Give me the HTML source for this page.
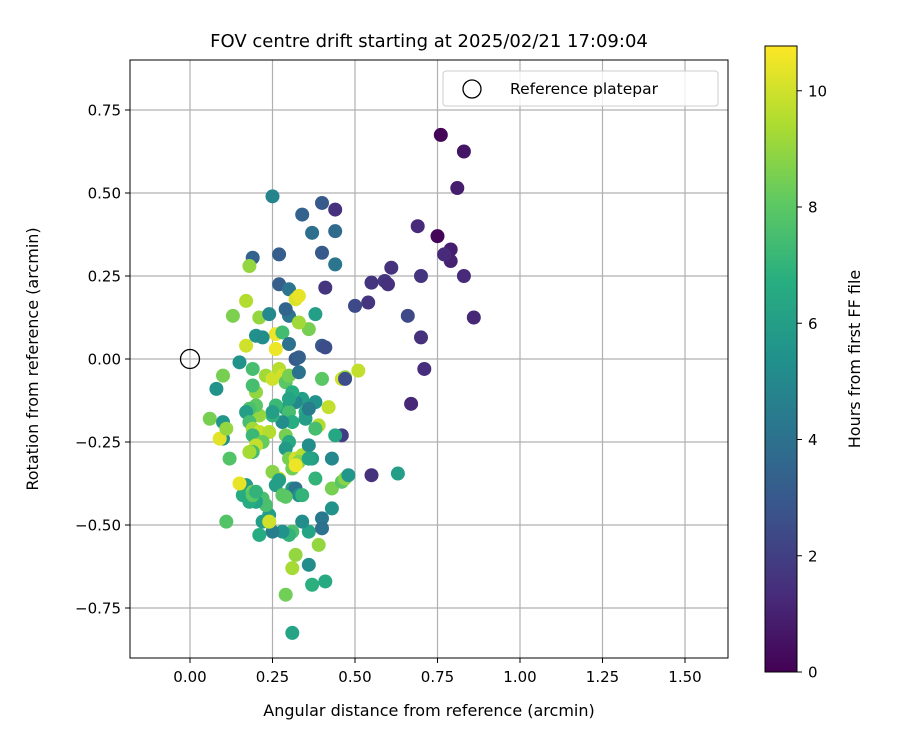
<!DOCTYPE html>
<html><head><meta charset="utf-8"><style>
body{margin:0;background:#fff;font-family:"Liberation Sans","DejaVu Sans",sans-serif}
svg text{font-family:"DejaVu Sans","Liberation Sans",sans-serif;fill:#000}
</style></head><body>
<svg id="chart" width="900" height="750" xmlns="http://www.w3.org/2000/svg">
<defs><linearGradient id="vir" x1="0" y1="1" x2="0" y2="0">
<stop offset="0" stop-color="#440154"/><stop offset="0.125" stop-color="#472d7b"/><stop offset="0.25" stop-color="#3b528b"/><stop offset="0.375" stop-color="#2c728e"/><stop offset="0.5" stop-color="#21918c"/><stop offset="0.625" stop-color="#28ae80"/><stop offset="0.75" stop-color="#5ec962"/><stop offset="0.875" stop-color="#addc30"/><stop offset="1" stop-color="#fde725"/></linearGradient>
<clipPath id="clip"><rect x="130" y="60" width="598" height="598"/></clipPath></defs>
<g id="grid"></g>
<g id="pts" clip-path="url(#clip)"></g>
<rect x="130" y="60" width="598" height="598" fill="none" stroke="#000" stroke-width="1"/>
<g id="ticks"></g>
<text x="429" y="47" font-size="18" text-anchor="middle">FOV centre drift starting at 2025/02/21 17:09:04</text>
<text x="429" y="716" font-size="16" text-anchor="middle">Angular distance from reference (arcmin)</text>
<text transform="translate(38,359) rotate(-90)" font-size="16" text-anchor="middle">Rotation from reference (arcmin)</text>
<g>
<rect x="443" y="71" width="275" height="35" rx="3" fill="#fff" fill-opacity="0.8" stroke="#ccc"/>
<circle cx="472" cy="89" r="9" fill="none" stroke="#000" stroke-width="1.3"/>
<text x="510" y="94" font-size="15.5">Reference platepar</text>
</g>
<rect x="765" y="46" width="32" height="626" fill="url(#vir)" stroke="#000" stroke-width="1"/>
<g id="cbticks"></g>
<text transform="translate(860,359) rotate(-90)" font-size="16" text-anchor="middle">Hours from first FF file</text>
</svg>
<script>
const xs=[0.76,0.83,0.81,0.75,0.79,0.79,0.77,0.69,0.70,0.61,0.55,0.59,0.60,0.54,0.50,0.86,0.83,0.66,0.70,0.71,0.67,0.55,0.63,0.46,
0.25,0.40,0.44,0.34,0.37,0.44,0.40,0.44,0.41,0.19,0.27,0.18,0.27,0.30,0.17,0.13,0.21,0.24,0.20,0.30,0.29,0.32,0.33,0.38,0.36,0.33,0.26,0.17,0.28,0.22,0.26,0.40,0.41,0.32,0.33,0.30,0.15,0.08,0.10,0.06,0.10,0.10,0.09,0.11,0.12,
0.19,0.20,0.19,0.23,0.25,0.27,0.28,0.29,0.30,0.33,0.34,0.32,0.29,0.30,0.31,0.28,0.25,0.26,0.25,0.21,0.20,0.18,0.17,0.18,0.19,0.21,0.19,0.24,0.22,0.20,0.19,0.18,0.29,0.30,0.29,0.30,0.32,0.34,0.33,0.36,0.37,0.36,0.39,0.38,0.38,0.40,0.42,0.43,0.44,0.46,0.47,0.47,0.51,0.35,0.35,0.36,0.31,0.30,0.27,0.25,0.26,0.28,0.31,0.32,0.36,0.38,0.31,0.32,0.33,0.43,0.46,0.47,0.48,0.43,0.36,0.34,0.40,0.40,0.39,0.31,0.30,0.28,0.25,0.24,0.24,0.22,0.23,0.22,0.20,0.18,0.17,0.16,0.15,0.19,0.19,0.21,0.11,0.20,0.32,0.31,0.36,0.37,0.41,0.29,0.31,0.27,0.34,0.29,0.24];
const ys=[0.675,0.625,0.515,0.37,0.33,0.295,0.315,0.40,0.25,0.275,0.23,0.235,0.225,0.17,0.16,0.125,0.25,0.13,0.065,-0.03,-0.135,-0.35,-0.345,-0.23,
0.49,0.47,0.45,0.435,0.38,0.385,0.32,0.285,0.215,0.305,0.315,0.28,0.225,0.21,0.175,0.13,0.125,0.135,0.07,0.13,0.15,0.18,0.19,0.135,0.09,0.11,0.075,0.04,0.08,0.065,0.03,0.04,0.035,0.0,0.005,0.045,-0.01,-0.09,-0.05,-0.18,-0.19,-0.24,-0.24,-0.21,-0.30,
-0.03,-0.10,-0.08,-0.05,-0.06,-0.03,-0.05,-0.07,-0.05,-0.04,-0.12,-0.13,-0.15,-0.16,-0.19,-0.19,-0.17,-0.14,-0.16,-0.17,-0.14,-0.15,-0.16,-0.19,-0.21,-0.22,-0.23,-0.22,-0.25,-0.26,-0.28,-0.28,-0.23,-0.25,-0.27,-0.30,-0.30,-0.29,-0.31,-0.30,-0.30,-0.26,-0.20,-0.21,-0.13,-0.06,-0.145,-0.30,-0.23,-0.06,-0.055,-0.06,-0.035,-0.16,-0.18,-0.15,-0.10,-0.12,-0.36,-0.34,-0.38,-0.41,-0.33,-0.32,-0.30,-0.36,-0.39,-0.39,-0.41,-0.39,-0.37,-0.36,-0.35,-0.45,-0.52,-0.49,-0.48,-0.51,-0.56,-0.52,-0.53,-0.52,-0.52,-0.49,-0.47,-0.49,-0.44,-0.42,-0.43,-0.43,-0.38,-0.41,-0.375,-0.40,-0.41,-0.53,-0.49,-0.40,-0.59,-0.63,-0.62,-0.68,-0.67,-0.71,-0.825,-0.365,-0.41,-0.415,-0.49];
const hours=[0.1,0.6,0.9,0.1,0.9,1.0,1.3,1.3,1.6,1.5,1.6,1.7,1.5,1.6,2.4,1.2,1.3,2.4,1.5,1.4,1.2,1.5,6.0,1.9,
4.8,3.0,1.5,3.4,3.9,3.7,3.0,4.2,1.6,3.4,3.2,9.0,3.2,4.2,9.5,8.6,9.0,5.0,5.4,4.2,3.5,10.2,10.4,6.0,8.5,9.2,10.5,10.0,7.4,5.2,10.5,3.0,2.5,3.0,3.3,4.0,5.5,5.5,8.5,8.5,5.6,5.4,10.3,9.0,7.8,
7.5,9.0,7.5,9.2,10.0,9.6,10.0,8.0,8.5,4.0,6.0,5.0,6.2,7.5,6.7,5.2,7.0,7.2,6.0,9.0,8.0,7.6,6.0,7.5,9.2,9.8,7.2,9.5,8.2,9.8,7.4,9.3,8.5,6.5,5.8,8.5,10.0,9.5,8.8,7.2,6.0,5.2,9.5,7.5,5.5,8.0,9.8,5.0,6.4,10.0,9.0,2.5,9.8,6.5,6.0,4.5,6.7,6.2,10.0,8.8,6.0,8.0,8.4,10.5,6.2,7.0,6.0,4.2,5.2,8.5,8.0,8.8,5.6,5.5,6.2,5.2,4.3,4.0,9.0,7.6,7.0,5.5,4.5,7.8,6.0,6.0,7.6,7.6,6.2,6.6,5.8,6.6,10.4,8.4,8.0,6.6,7.8,7.0,9.0,9.3,5.2,6.8,6.5,8.4,6.2,6.0,7.0,8.0,10.0];
const xTicks=[0,0.25,0.5,0.75,1.0,1.25,1.5];
const xTickLabels=["0.00","0.25","0.50","0.75","1.00","1.25","1.50"];
const yTicks=[-0.75,-0.5,-0.25,0,0.25,0.5,0.75];
const yTickLabels=["−0.75","−0.50","−0.25","0.00","0.25","0.50","0.75"];
const cbTicks=[0,2,4,6,8,10];
const X=v=>190+v*330, Y=v=>359-v*332, CB=v=>672-v*(626/10.77);
const stops=[[68,1,84],[71,45,123],[59,82,139],[44,114,142],[33,145,140],[40,174,128],[94,201,98],[173,220,48],[253,231,37]];
function vir(h){let t=Math.max(0,Math.min(1,h/10.77))*8;let i=Math.min(7,Math.floor(t)),f=t-i;const a=stops[i],b=stops[i+1];return `rgb(${a.map((c,k)=>Math.round(c+(b[k]-c)*f)).join(',')})`;}
const NS="http://www.w3.org/2000/svg";
function mk(tag,attrs,parent){const e=document.createElementNS(NS,tag);for(const k in attrs)e.setAttribute(k,attrs[k]);parent.appendChild(e);return e;}
const grid=document.getElementById('grid'),ticks=document.getElementById('ticks'),pts=document.getElementById('pts'),cbt=document.getElementById('cbticks');
xTicks.forEach((v,i)=>{
 const g=mk('line',{x1:X(v),x2:X(v),y1:60,y2:658,stroke:'#b0b0b0','stroke-width':1.2},grid);
 
 
 mk('line',{x1:X(v),x2:X(v),y1:658,y2:663,stroke:'#000'},ticks);
 const t=mk('text',{x:X(v),y:682,'font-size':15,'text-anchor':'middle'},ticks);t.textContent=xTickLabels[i];
 
 
});
yTicks.forEach((v,i)=>{
 const g=mk('line',{x1:130,x2:728,y1:Y(v),y2:Y(v),stroke:'#b0b0b0','stroke-width':1.2},grid);
 
 
 mk('line',{x1:125,x2:130,y1:Y(v),y2:Y(v),stroke:'#000'},ticks);
 const t=mk('text',{x:121,y:Y(v)+5.5,'font-size':15,'text-anchor':'end'},ticks);t.textContent=yTickLabels[i];
 
 
});
cbTicks.forEach(v=>{
 mk('line',{x1:797,x2:802,y1:CB(v),y2:CB(v),stroke:'#000'},cbt);
 const t=mk('text',{x:808,y:CB(v)+5.5,'font-size':15},cbt);t.textContent=String(v);
 
 
});
xs.forEach((x,i)=>{
 const c=mk('circle',{cx:X(x),cy:Y(ys[i]),r:7,fill:vir(hours[i])},pts);
 
 
});
const r=mk('circle',{cx:X(0),cy:Y(0),r:9.5,fill:'none',stroke:'#000','stroke-width':1.3},pts);


</script>
</body></html>
